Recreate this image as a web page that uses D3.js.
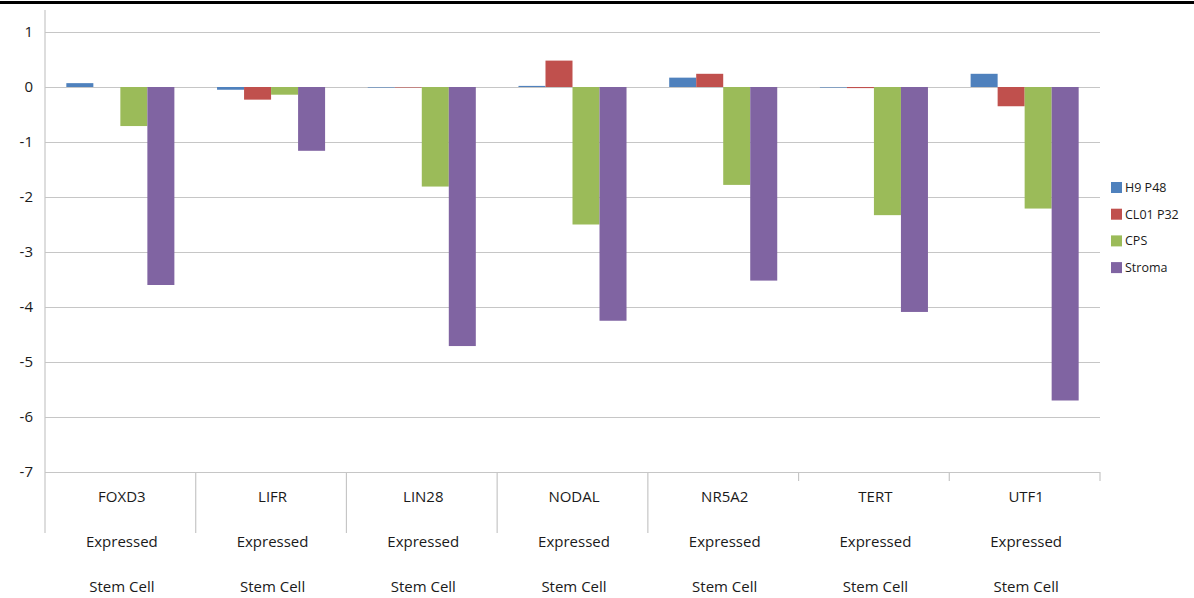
<!DOCTYPE html>
<html>
<head>
<meta charset="utf-8">
<script src="https://cdn.jsdelivr.net/npm/d3@7"></script>
<style>
  html, body { margin: 0; padding: 0; background: #fff; }
  svg { display: block; }
  text { font-family: "Open Sans", "Noto Sans", sans-serif; fill: #1a1a1a; }
</style>
</head>
<body>
<svg id="chart" width="1194" height="598"></svg>
<script>
// Gene categories (inner level) and the two outer grouping levels
const genes = ["FOXD3", "LIFR", "LIN28", "NODAL", "NR5A2", "TERT", "UTF1"];
const level2 = ["Expressed", "Expressed", "Expressed", "Expressed", "Expressed", "Expressed", "Expressed"];
const level3 = ["Stem Cell", "Stem Cell", "Stem Cell", "Stem Cell", "Stem Cell", "Stem Cell", "Stem Cell"];

// Series names and colours
const seriesNames = ["H9 P48", "CL01 P32", "CPS", "Stroma"];
const seriesColors = ["#4F81BD", "#C0504D", "#9BBB59", "#8064A2"];

// Values per series, in gene order
const h9p48   = [0.07, -0.05, -0.01, 0.02, 0.17, -0.01, 0.24];
const cl01p32 = [0.00, -0.23, -0.01, 0.48, 0.24, -0.02, -0.35];
const cps     = [-0.71, -0.14, -1.81, -2.50, -1.78, -2.33, -2.21];
const stroma  = [-3.60, -1.16, -4.71, -4.25, -3.52, -4.09, -5.70];

// Y axis ticks and their labels (plain hyphen minus)
const yTicks = [1, 0, -1, -2, -3, -4, -5, -6, -7];
const yTickLabels = ["1", "0", "-1", "-2", "-3", "-4", "-5", "-6", "-7"];

const seriesValues = [h9p48, cl01p32, cps, stroma];

const svg = d3.select("#chart");

const plot = { left: 45, right: 1100, top: 32, bottom: 472 };

const x = d3.scaleBand()
  .domain(genes)
  .range([plot.left, plot.right])
  .paddingInner(0)
  .paddingOuter(0);

const xSub = d3.scaleBand()
  .domain(seriesNames)
  .range([0, x.bandwidth()])
  .paddingInner(0)
  .paddingOuter(0.79);

const y = d3.scaleLinear()
  .domain([-7, 1])
  .range([plot.bottom, plot.top]);

// Heavy rule along the top edge
svg.append("line")
  .attr("x1", 0).attr("x2", 1194)
  .attr("y1", 2.5).attr("y2", 2.5)
  .attr("stroke", "#000").attr("stroke-width", 3);

// Horizontal gridlines
const grid = svg.append("g")
  .attr("transform", `translate(${plot.left},0)`)
  .call(d3.axisLeft(y).tickValues(yTicks).tickSize(-(plot.right - plot.left)).tickFormat(""));
grid.select(".domain").remove();
grid.selectAll("line").attr("stroke", "#c6c6c6").attr("stroke-width", 1);

// Y axis labels
const yAxis = svg.append("g")
  .attr("transform", `translate(${plot.left},0)`)
  .call(d3.axisLeft(y).tickValues(yTicks).tickSize(0).tickPadding(12)
    .tickFormat((d, i) => yTickLabels[i]));
yAxis.select(".domain").remove();
yAxis.selectAll("text")
  .style("font-family", "'Open Sans', 'Noto Sans', sans-serif")
  .style("font-size", "15px")
  .attr("fill", "#1a1a1a");

// Vertical axis line
svg.append("line")
  .attr("x1", plot.left).attr("x2", plot.left)
  .attr("y1", 10).attr("y2", 533)
  .attr("stroke", "#c6c6c6").attr("stroke-width", 1.2);

// Category separators below the plot
const boundaries = genes.map(g => x(g)).concat([x(genes[genes.length - 1]) + x.bandwidth()]);
svg.append("g").selectAll("line")
  .data(boundaries.slice(1))
  .join("line")
  .attr("x1", d => d).attr("x2", d => d)
  .attr("y1", plot.bottom)
  .attr("y2", (d, i) => i < 4 ? 533 : 481)
  .attr("stroke", "#c6c6c6").attr("stroke-width", 1.2);

// Bars
const groups = svg.append("g").selectAll("g")
  .data(seriesNames)
  .join("g")
  .attr("fill", (d, i) => seriesColors[i]);

groups.selectAll("rect")
  .data((s, si) => genes.map((g, gi) => ({ gene: g, series: s, value: seriesValues[si][gi] })))
  .join("rect")
  .attr("x", d => x(d.gene) + xSub(d.series))
  .attr("width", xSub.bandwidth())
  .attr("y", d => y(Math.max(0, d.value)))
  .attr("height", d => Math.abs(y(d.value) - y(0)));

// Multi-level category labels
const labelRows = [
  { labels: genes, yPos: 497 },
  { labels: level2, yPos: 542 },
  { labels: level3, yPos: 587 }
];
labelRows.forEach(row => {
  svg.append("g").selectAll("text")
    .data(genes)
    .join("text")
    .attr("x", d => x(d) + x.bandwidth() / 2 + 1.5)
    .attr("y", row.yPos)
    .attr("dy", "0.35em")
    .attr("text-anchor", "middle")
    .style("font-size", "15px")
    .text((d, i) => row.labels[i]);
});

// Legend
const legend = svg.append("g").attr("transform", "translate(1111,182)");
const items = legend.selectAll("g")
  .data(seriesNames)
  .join("g")
  .attr("transform", (d, i) => `translate(0,${i * 26.7})`);
items.append("rect")
  .attr("width", 11).attr("height", 11)
  .attr("fill", (d, i) => seriesColors[i]);
items.append("text")
  .attr("x", 14).attr("y", 5.5)
  .attr("dy", "0.35em")
  .style("font-size", "12.5px")
  .text(d => d);
</script>
</body>
</html>
